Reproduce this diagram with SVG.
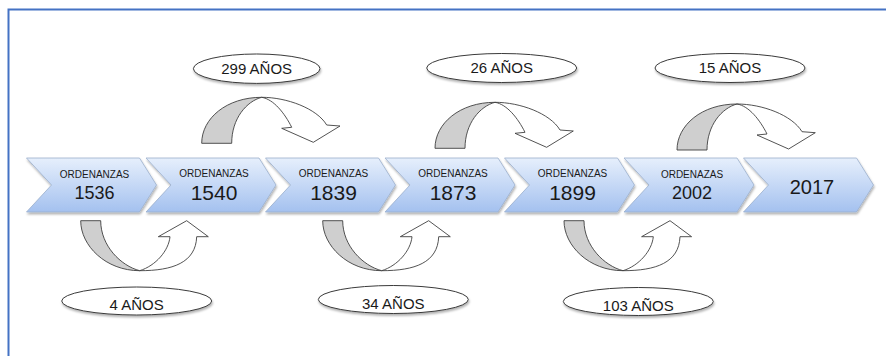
<svg xmlns="http://www.w3.org/2000/svg" xmlns:xlink="http://www.w3.org/1999/xlink" width="886" height="356" viewBox="0 0 886 356">
<style>
.chev{fill:url(#chevGrad);stroke:#9aaecb;stroke-width:0.8;filter:url(#shadow)}
.t{font-family:"Liberation Sans",Arial,sans-serif;fill:#1a1a1a;text-anchor:middle}
.small{font-size:10px}
.lbl{fill:#fff;stroke:#3a3a3a;stroke-width:1;filter:url(#shadow)}
.lt{font-family:"Liberation Sans",Arial,sans-serif;font-size:15px;fill:#1a1a1a;text-anchor:middle}
.back{fill:#cfcfcf;stroke:#404040;stroke-width:0.9;stroke-linejoin:round}
.front{fill:#fff;stroke:#404040;stroke-width:0.9;stroke-linejoin:round}
</style>
<defs>
<linearGradient id="chevGrad" x1="0" y1="0" x2="0" y2="1">
<stop offset="0" stop-color="#e6effc"/>
<stop offset="1" stop-color="#a4c1ef"/>
</linearGradient>
<filter id="shadow" x="-10%" y="-20%" width="120%" height="150%">
<feDropShadow dx="0.8" dy="2" stdDeviation="1.2" flood-color="#000" flood-opacity="0.3"/>
</filter>
<path id="chevShape" class="chev" d="M0,0 H113 L130,27 L113,54 H0 L25,27 Z"/>
<g id="curveDown">
<path class="back" d="M0,0 C0,-25 25,-46 60,-46 C45,-42 30,-25 30,0 Z"/>
<path class="front" d="M60,-46 C85,-46 115,-35 125,-18.3 L138.3,-17.3 L111.6,-1 L80,-15 L90,-16 C83,-30 72,-44 60,-46 Z"/>
</g>
<g id="curveUp">
<path class="back" d="M0,0 C0,25 25,50 59,50 C40,45 20,25 20,0 Z"/>
<path class="front" d="M59,50 C92,50 115,42 116,16 L127.6,16 L106,0 L77.6,16 L89.3,16 C88,30 75,45 59,50 Z"/>
</g>
</defs>
<rect width="886" height="356" fill="#fff"/>
<path d="M8.5,356 V9.5 H886" fill="none" stroke="#4472c4" stroke-width="2"/>

<g id="connectors">
<use xlink:href="#curveDown" href="#curveDown" transform="translate(201.7,143.3)"/>
<use xlink:href="#curveDown" href="#curveDown" transform="translate(435,148.3)"/>
<use xlink:href="#curveDown" href="#curveDown" transform="translate(677,150)"/>
<use xlink:href="#curveUp" href="#curveUp" transform="translate(80.7,220.7)"/>
<use xlink:href="#curveUp" href="#curveUp" transform="translate(322.7,220.7)"/>
<use xlink:href="#curveUp" href="#curveUp" transform="translate(564,220.7)"/>
</g>

<g id="node-1536">
<use xlink:href="#chevShape" href="#chevShape" x="26.5" y="158"/>
<text class="t small" x="94.5" y="178">ORDENANZAS</text>
<text class="t" x="94.5" y="198.5" font-size="18">1536</text>
</g>
<g id="node-1540">
<use xlink:href="#chevShape" href="#chevShape" x="146" y="158"/>
<text class="t small" x="214" y="176.5">ORDENANZAS</text>
<text class="t" x="214" y="199.5" font-size="21">1540</text>
</g>
<g id="node-1839">
<use xlink:href="#chevShape" href="#chevShape" x="265.5" y="158"/>
<text class="t small" x="333.5" y="176.5">ORDENANZAS</text>
<text class="t" x="333.5" y="199.5" font-size="21">1839</text>
</g>
<g id="node-1873">
<use xlink:href="#chevShape" href="#chevShape" x="385" y="158"/>
<text class="t small" x="453" y="176.5">ORDENANZAS</text>
<text class="t" x="453" y="199.5" font-size="21">1873</text>
</g>
<g id="node-1899">
<use xlink:href="#chevShape" href="#chevShape" x="504.5" y="158"/>
<text class="t small" x="572.5" y="176.5">ORDENANZAS</text>
<text class="t" x="572.5" y="199.5" font-size="21">1899</text>
</g>
<g id="node-2002">
<use xlink:href="#chevShape" href="#chevShape" x="624" y="158"/>
<text class="t small" x="692" y="178">ORDENAZAS</text>
<text class="t" x="692" y="199" font-size="18">2002</text>
</g>
<g id="node-2017">
<use xlink:href="#chevShape" href="#chevShape" x="743.5" y="158"/>
<text class="t" x="812" y="193.5" font-size="20">2017</text>
</g>

<g id="label-299">
<ellipse class="lbl" cx="256.7" cy="68.7" rx="63.3" ry="14.7"/>
<text class="lt" x="256.7" y="73.5">299 AÑOS</text>
</g>
<g id="label-26">
<ellipse class="lbl" cx="501.7" cy="68" rx="75" ry="14.5"/>
<text class="lt" x="501.7" y="73.3">26 AÑOS</text>
</g>
<g id="label-15">
<ellipse class="lbl" cx="730" cy="68" rx="75" ry="14.5"/>
<text class="lt" x="730" y="73.3">15 AÑOS</text>
</g>
<g id="label-4">
<ellipse class="lbl" cx="136.7" cy="301" rx="75" ry="14"/>
<text class="lt" x="136.7" y="309.5">4 AÑOS</text>
</g>
<g id="label-34">
<ellipse class="lbl" cx="393.3" cy="299.5" rx="75" ry="14"/>
<text class="lt" x="393.3" y="309">34 AÑOS</text>
</g>
<g id="label-103">
<ellipse class="lbl" cx="638.3" cy="301.5" rx="75" ry="14"/>
<text class="lt" x="638.3" y="310.5">103 AÑOS</text>
</g>
</svg>
